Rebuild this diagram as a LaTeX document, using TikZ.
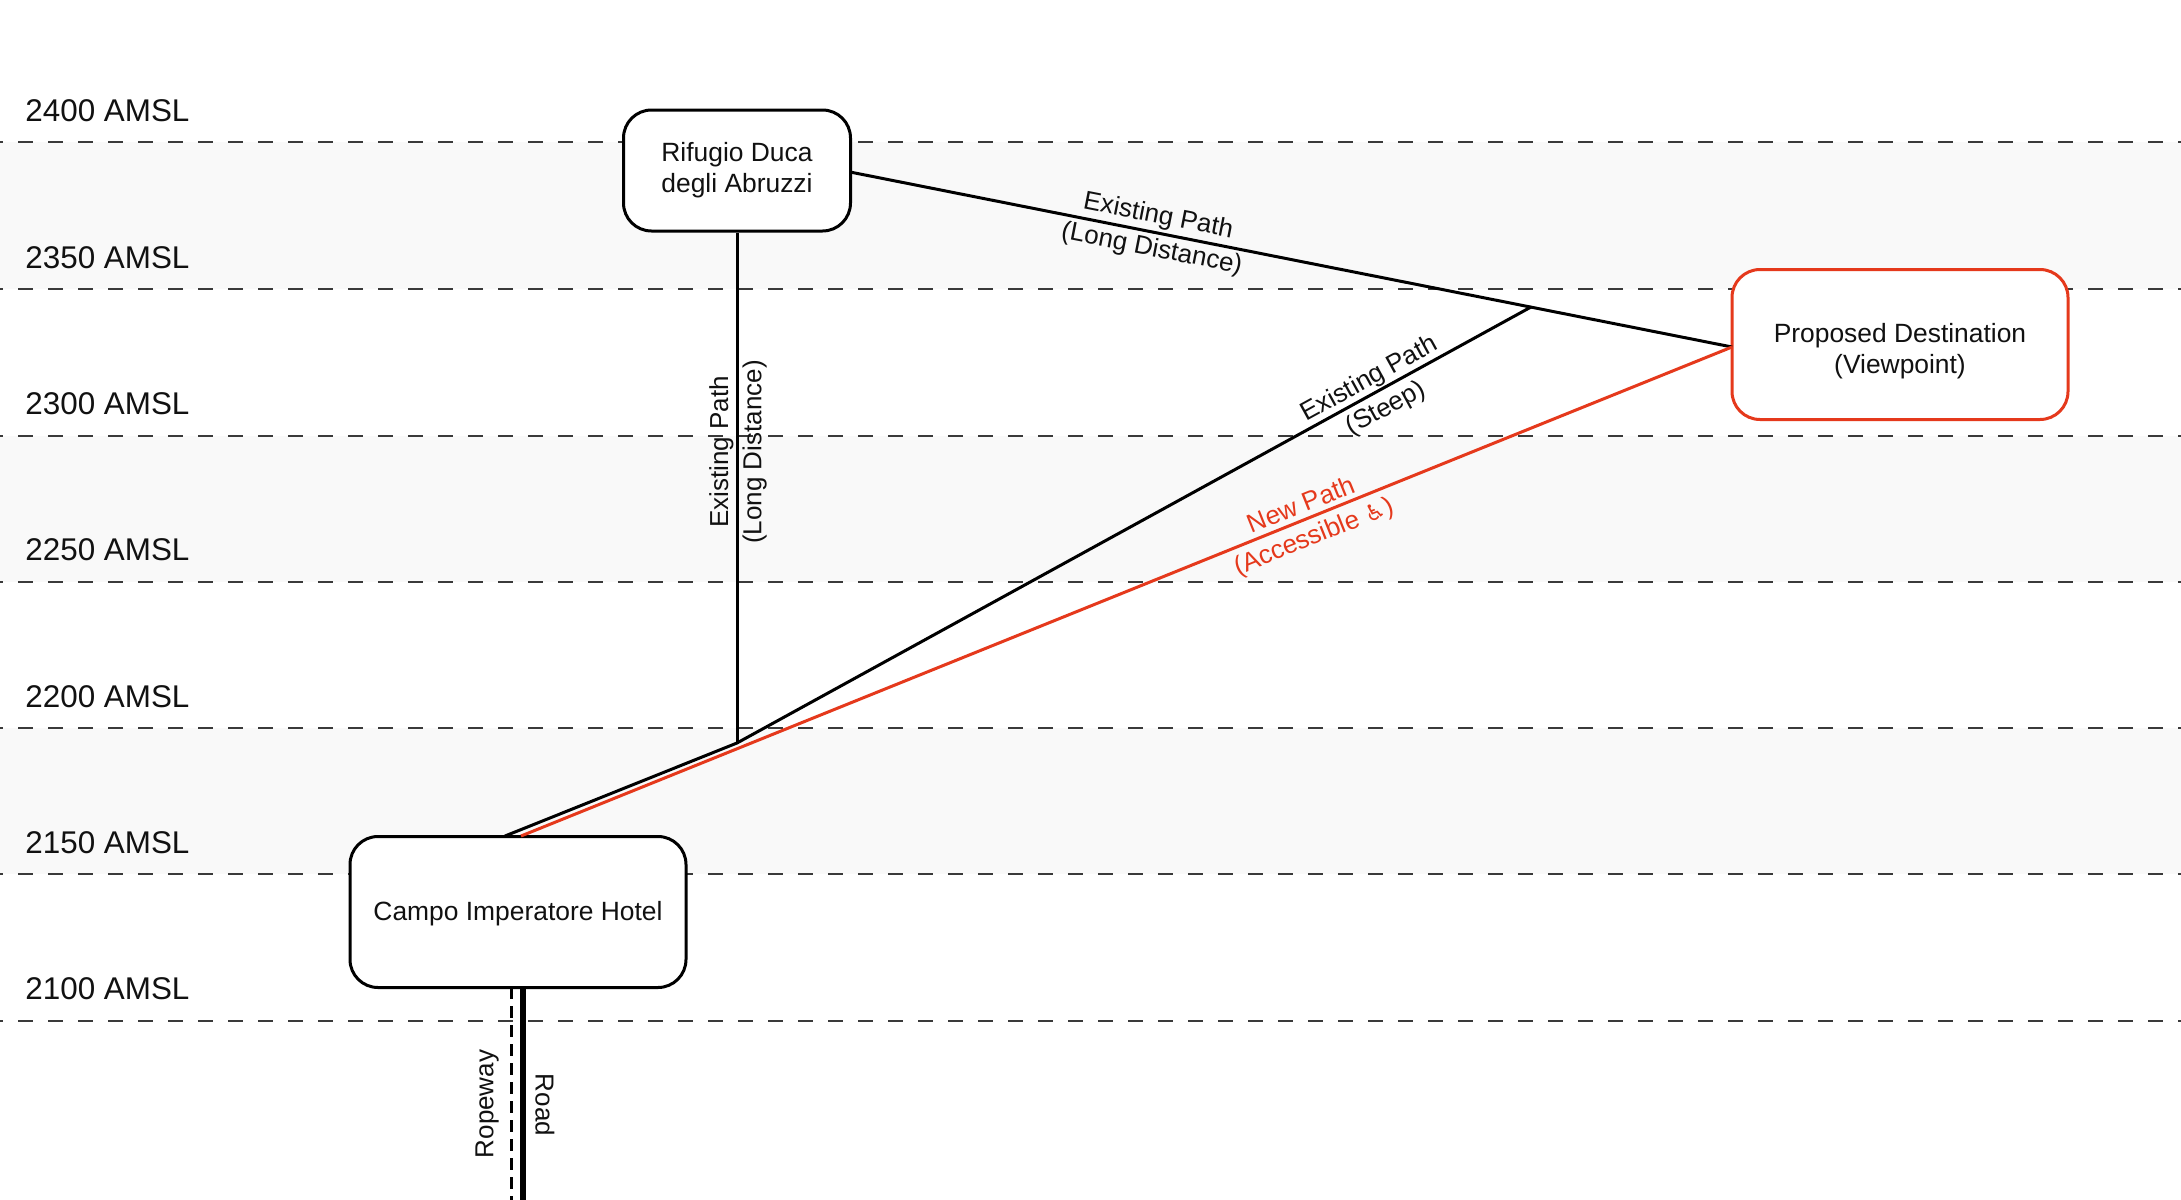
\documentclass[tikz,border=0pt]{standalone}
\usepackage{fontspec}
\setmainfont{Liberation Sans}
\newfontfamily\symfont{DejaVu Sans}
\definecolor{bandgray}{HTML}{F9F9F9}
\definecolor{levelgray}{HTML}{3A3A3A}
\definecolor{inkblack}{HTML}{111111}
\definecolor{newred}{HTML}{E5391C}
\newcommand{\liftedtext}[2]{\raisebox{#1}[\height][\depth]{\begin{tabular}{@{}c@{}}#2\end{tabular}}}
\tikzset{
  band/.style={fill=bandgray,draw=none},
  levelline/.style={draw=levelgray,line width=1pt,dash pattern=on 7.5pt off 7.5pt,dash phase=6pt},
  leveltext/.style={anchor=base west,inner sep=0pt,font=\fontsize{15.7}{18}\selectfont,text=inkblack},
  place/.style={draw=black,fill=white,line width=1.5pt,rounded corners=14pt,inner sep=0pt,align=center,font=\fontsize{13.2}{15.5}\selectfont,text=inkblack},
  newplace/.style={place,draw=newred},
  pathline/.style={draw=black,line width=1.5pt,line join=round},
  newline/.style={draw=newred,line width=1.5pt},
  pathtext/.style={inner sep=0pt,align=center,font=\fontsize{13}{16.7}\selectfont,text=inkblack},
  newtext/.style={pathtext,text=newred},
}
\begin{document}
\begin{tikzpicture}[x=0.5pt,y=-0.5pt]
\useasboundingbox (0,0) rectangle (2181,1200);
\fill[white] (0,0) rectangle (2181,1200);
\fill[band] (0,142) rectangle (2181,289);
\fill[band] (0,435.5) rectangle (2181,581.5);
\fill[band] (0,728) rectangle (2181,874);
\foreach \yy/\lab in {142/2400,289/2350,435.5/2300,581.5/2250,728/2200,874/2150,1020.5/2100}{
  \draw[levelline] (0,\yy) -- (2181,\yy);
  \node[leveltext] (L\lab) at (25,\yy-21) {\lab\ AMSL};
}
\node[place,minimum width=113.5pt,minimum height=60.5pt] (rifugio) at (737,170.5) {\liftedtext{0pt}{Rifugio Duca\\degli Abruzzi}};
\node[place,minimum width=168pt,minimum height=75.5pt] (campo) at (518,912) {\liftedtext{-1.2pt}{Campo Imperatore Hotel}};
\node[newplace,minimum width=168pt,minimum height=75pt] (dest) at (1900,344.5) {\liftedtext{-3.4pt}{Proposed Destination\\(Viewpoint)}};
\coordinate (blackstart) at (505,836);
\coordinate (redstart) at (521,836);
\coordinate (fork) at (737,743);
\coordinate (junction) at (1531,307);
\coordinate (longstart) at (850,172);
\coordinate (destin) at (1732,347);
\coordinate (ropeend) at (511.3,1200);
\coordinate (ropetop) at (511.3,987);
\coordinate (roadend) at (522.7,1200);
\coordinate (roadtop) at (522.7,987);
\draw[pathline] (rifugio.south) -- (fork);
\draw[pathline] (longstart) -- (destin);
\draw[pathline] (blackstart) -- (fork) -- (junction);
\draw[newline] (redstart) -- (destin);
\draw[draw=black,line width=1.5pt,dash pattern=on 6pt off 3.5pt] (ropetop) -- (ropeend);
\draw[draw=black,line width=3pt] (roadtop) -- (roadend);
\node[pathtext,rotate=90] (lvert) at (738,452) {Existing Path\\(Long Distance)};
\node[pathtext,rotate=-11.1] (llong) at (1155,233) {Existing Path\\(Long Distance)};
\node[pathtext,rotate=28.8] (lsteep) at (1378,394) {Existing Path\\(Steep)};
\node[newtext,rotate=21.9] (lnew) at (1308,522) {New Path\\(Accessible {\symfont\fontsize{11.5}{16.7}\selectfont\char"267F})};
\node[pathtext,rotate=90] (lrope) at (487,1104) {Ropeway};
\node[pathtext,rotate=-90] (lroad) at (545,1105) {Road};
\end{tikzpicture}
\end{document}
